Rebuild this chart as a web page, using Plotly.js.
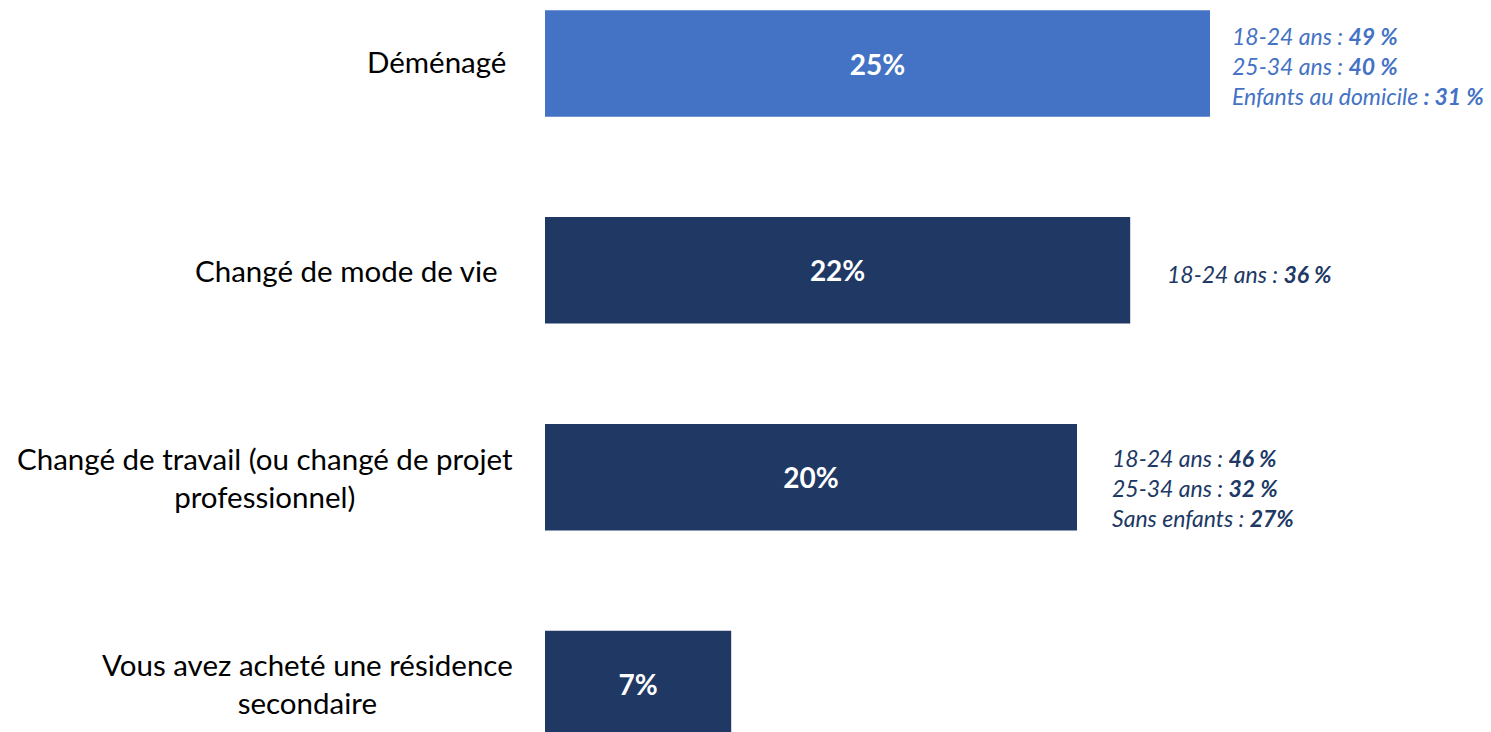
<!DOCTYPE html>
<html>
<head>
<meta charset="utf-8">
<script src="https://cdn.plot.ly/plotly-3.0.1.min.js"></script>
<style>html,body{margin:0;padding:0;background:#fff;}#chart{width:1491px;height:732px;}</style>
</head>
<body>
<div id="chart"></div>
<script>
const categories = [
  "Déménagé",
  "Changé de mode de vie",
  "Changé de travail (ou changé de projet<br>professionnel)",
  "Vous avez acheté une résidence<br>secondaire"
];
const values = [25, 22, 20, 7];
const sideNotes = [
  "18-24 ans : <b>49 %</b><br>25-34 ans : <b>40 %</b><br>Enfants au domicile <b>: 31 %</b>",
  "18-24 ans : <b>36 %</b>",
  "18-24 ans : <b>46 %</b><br>25-34 ans : <b>32 %</b><br>Sans enfants : <b>27%</b>",
  ""
];

const LIGHT = "#4472C4", DARK = "#203864";
const barColors = values.map((v, i) => i === 0 ? LIGHT : DARK);
const FONT = "Lato, 'Open Sans', sans-serif";

const trace = {
  type: "bar",
  orientation: "h",
  x: values,
  y: categories.map((c, i) => i),
  width: 0.515,
  marker: { color: barColors, line: { width: 0 } },
  text: values.map(v => "<b>" + v + "%</b>"),
  textposition: "inside",
  insidetextanchor: "middle",
  textangle: 0,
  textfont: { family: FONT, size: 28, color: "#ffffff" },
  hoverinfo: "none",
  cliponaxis: false
};

const labelShift = [-37, -45, -30, -30];
const labelYShift = [2, 0, 0, 1];
const annotations = [];
categories.forEach((c, i) => {
  annotations.push({
    xref: "x", yref: "y", x: 0, y: i,
    xanchor: "right", yanchor: "middle", xshift: labelShift[i], yshift: labelYShift[i],
    text: c, showarrow: false, align: "center",
    font: { family: FONT, size: 29.5, color: "#000000" }
  });
});
const noteXShift = [20, 35, 33, 30];
const noteYShift = [-2, -4, -11, 0];
sideNotes.forEach((n, i) => {
  if (!n) return;
  annotations.push({
    xref: "x", yref: "y", x: values[i], y: i,
    xanchor: "left", yanchor: "middle", xshift: noteXShift[i], yshift: noteYShift[i],
    text: "<i>" + n + "</i>", showarrow: false, align: "left",
    font: { family: FONT, size: 23, color: barColors[i] }
  });
});

const layout = {
  width: 1491, height: 732,
  margin: { l: 545, r: 0, t: 0, b: 0, pad: 0 },
  paper_bgcolor: "#ffffff", plot_bgcolor: "#ffffff",
  showlegend: false,
  xaxis: { range: [0, 946 / 26.6], visible: false, fixedrange: true },
  yaxis: { range: [3.232, -0.307], visible: false, fixedrange: true },
  annotations: annotations,
  font: { family: FONT }
};

Plotly.newPlot("chart", [trace], layout, { displayModeBar: false, staticPlot: true });
</script>
</body>
</html>
